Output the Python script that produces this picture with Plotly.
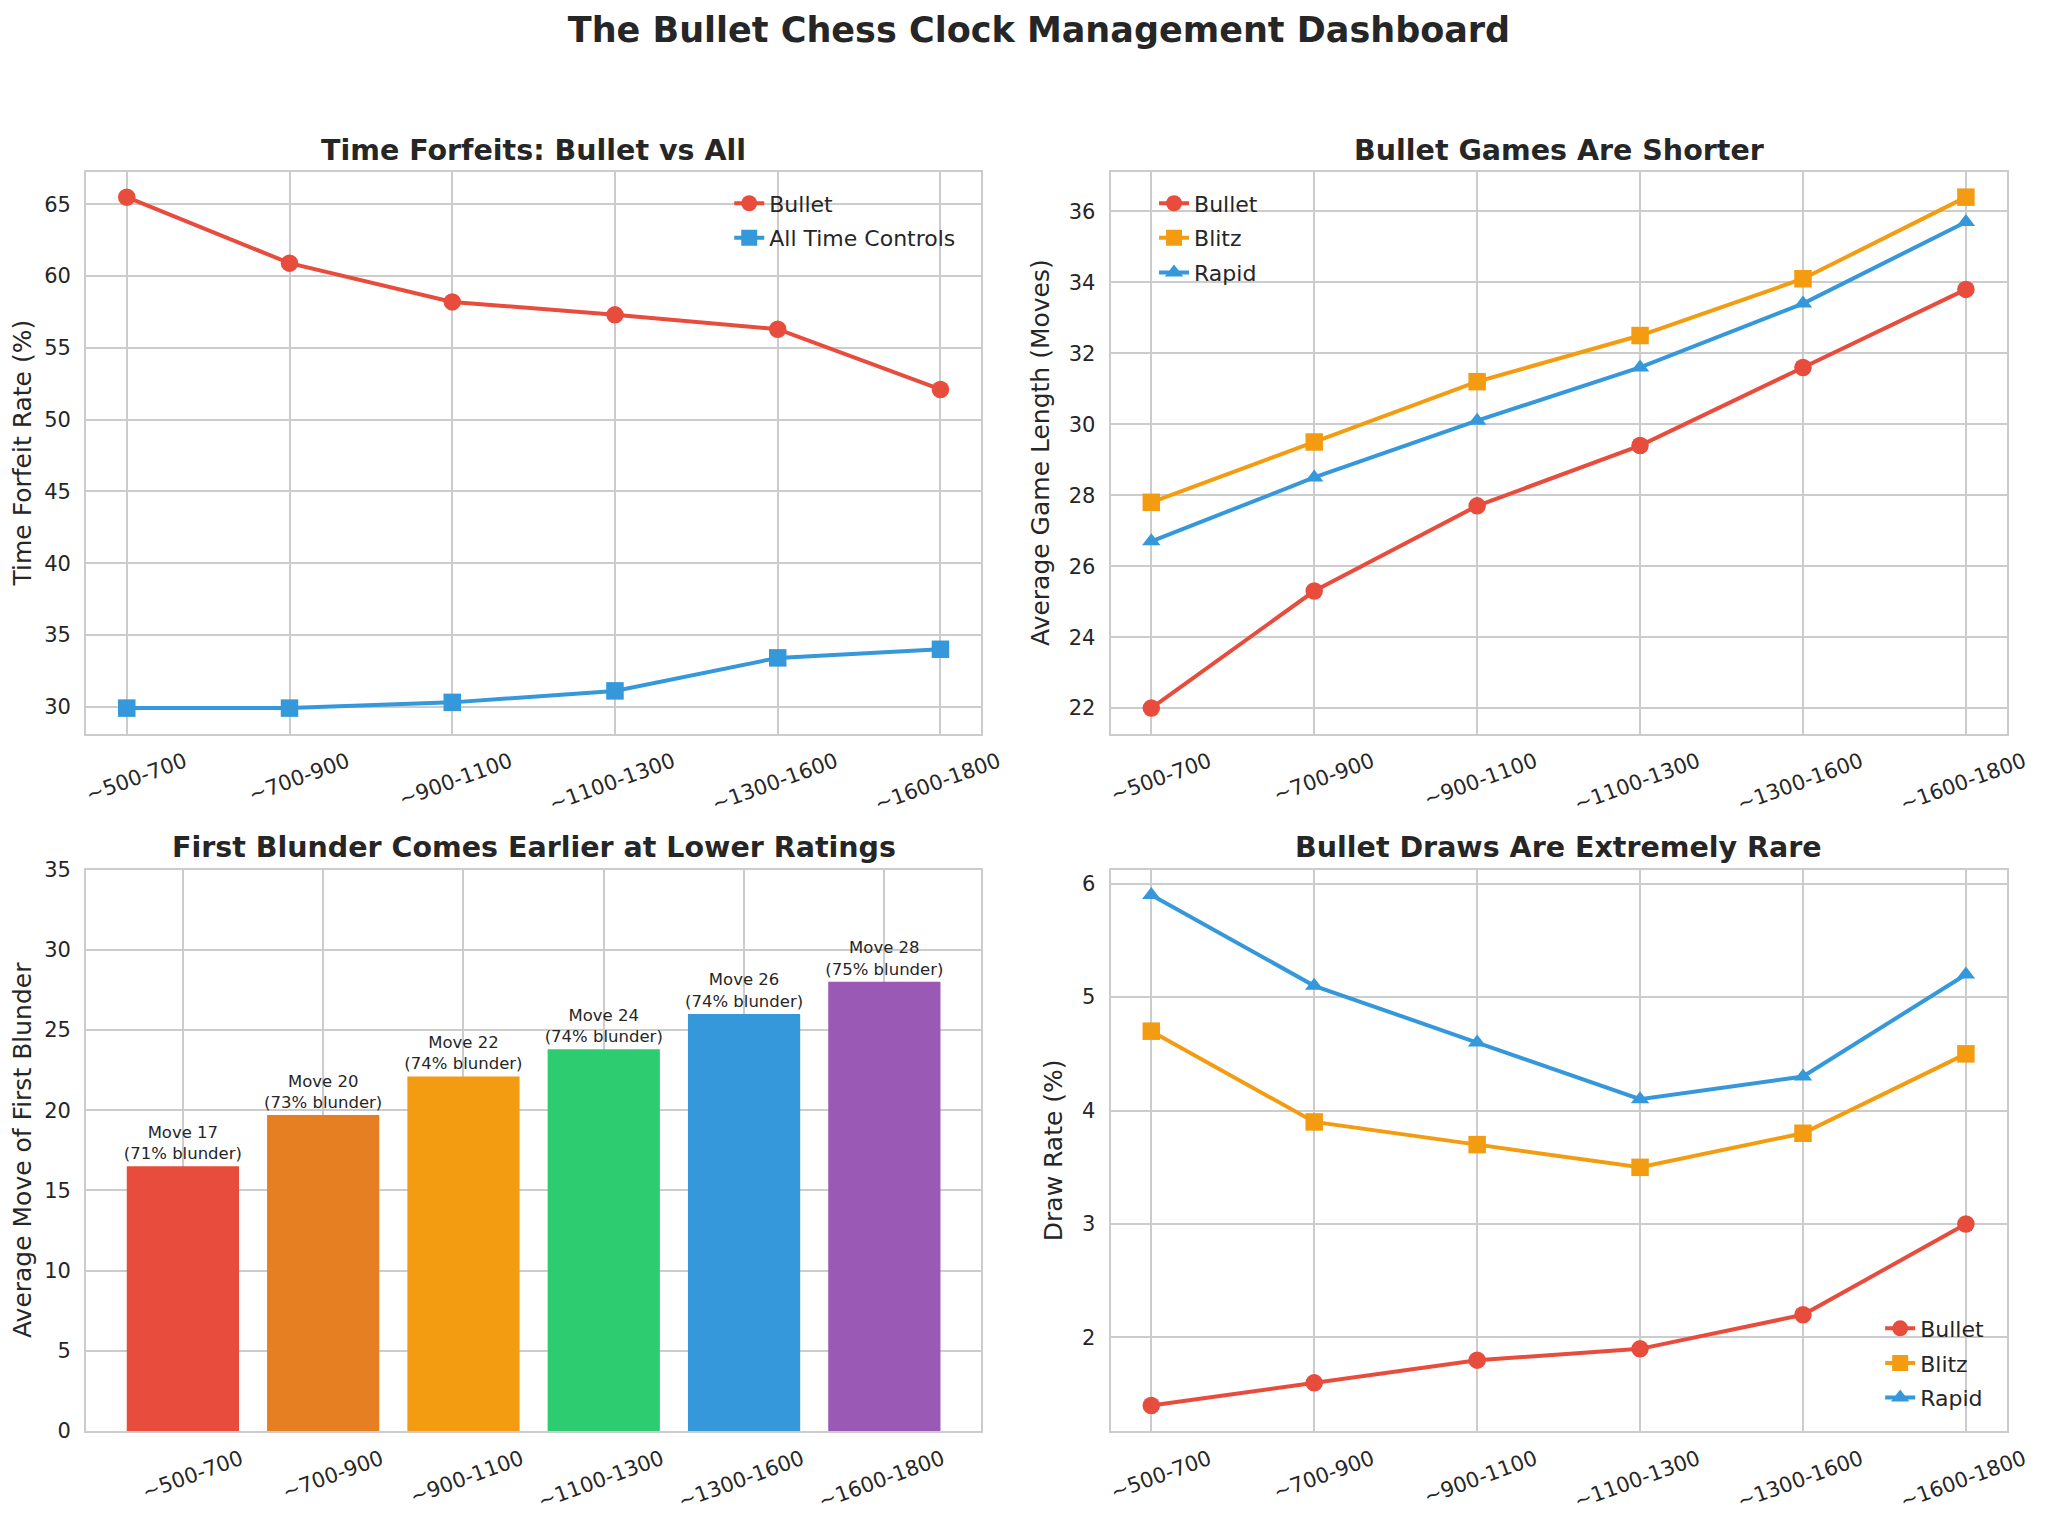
import plotly.graph_objects as go
from plotly.subplots import make_subplots

# Rating bands shared by all four panels
rating_bands = ["~500-700", "~700-900", "~900-1100", "~1100-1300", "~1300-1600", "~1600-1800"]

# Time forfeit rate (%)
forfeit_bullet = [65.5, 60.9, 58.2, 57.3, 56.3, 52.1]
forfeit_all = [29.9, 29.9, 30.3, 31.1, 33.4, 34.0]

# Average game length (moves)
length_bullet = [22.0, 25.3, 27.7, 29.4, 31.6, 33.8]
length_blitz = [27.8, 29.5, 31.2, 32.5, 34.1, 36.4]
length_rapid = [26.7, 28.5, 30.1, 31.6, 33.4, 35.7]

# First blunder
blunder_move = [16.5, 19.7, 22.1, 23.8, 26.0, 28.0]
blunder_move_label = [17, 20, 22, 24, 26, 28]
blunder_pct = [71, 73, 74, 74, 74, 75]
bar_colors = ["#e74c3c", "#e67e22", "#f39c12", "#2ecc71", "#3498db", "#9b59b6"]

# Draw rate (%)
draw_bullet = [1.4, 1.6, 1.8, 1.9, 2.2, 3.0]
draw_blitz = [4.7, 3.9, 3.7, 3.5, 3.8, 4.5]
draw_rapid = [5.9, 5.1, 4.6, 4.1, 4.3, 5.2]

RED = "#e74c3c"
ORANGE = "#f39c12"
BLUE = "#3498db"
TXT = "#262626"
FONT = "DejaVu Sans"

W, H = 2072, 1535
OFF = 8  # page body margin


def px_x(px):
    return (px - OFF) / W


def px_y(py):
    return 1 - (py - OFF) / H


fig = make_subplots(rows=2, cols=2)


def line(x, y, name, color, symbol, row, col, legend):
    size = 16 if symbol == "triangle-up" else 17.5
    fig.add_trace(go.Scatter(
        x=x, y=y, name=name, mode="lines+markers",
        line=dict(color=color, width=4),
        marker=dict(symbol=symbol, size=size, color=color),
        legend=legend, legendgroup=f"{legend}-{name}", cliponaxis=False,
    ), row=row, col=col)


line(rating_bands, forfeit_bullet, "Bullet", RED, "circle", 1, 1, "legend")
line(rating_bands, forfeit_all, "All Time Controls", BLUE, "square", 1, 1, "legend")

line(rating_bands, length_bullet, "Bullet", RED, "circle", 1, 2, "legend2")
line(rating_bands, length_blitz, "Blitz", ORANGE, "square", 1, 2, "legend2")
line(rating_bands, length_rapid, "Rapid", BLUE, "triangle-up", 1, 2, "legend2")

fig.add_trace(go.Bar(
    x=rating_bands, y=blunder_move, marker=dict(color=bar_colors, line=dict(width=0)),
    width=0.8, showlegend=False,
    text=[f"Move {m}<br>({p}% blunder)" for m, p in zip(blunder_move_label, blunder_pct)],
    textposition="outside", constraintext="none",
    textfont=dict(size=16.5, color=TXT, family=FONT),
    cliponaxis=False,
), row=2, col=1)

line(rating_bands, draw_bullet, "Bullet", RED, "circle", 2, 2, "legend3")
line(rating_bands, draw_blitz, "Blitz", ORANGE, "square", 2, 2, "legend3")
line(rating_bands, draw_rapid, "Rapid", BLUE, "triangle-up", 2, 2, "legend3")

left_dom = [px_x(84), px_x(990)]
right_dom = [px_x(1121), px_x(2028)]
top_dom = [px_y(733), px_y(162)]
bot_dom = [px_y(1441.5), px_y(871)]

axis_style = dict(
    showgrid=True, gridcolor="#cccccc", gridwidth=1.6,
    showline=True, linecolor="#cccccc", linewidth=2, mirror=True,
    ticks="", zeroline=False,
    tickfont=dict(size=21, color=TXT, family=FONT),
    title_font=dict(size=25, color=TXT, family=FONT),
)

fig.update_xaxes(**axis_style)
fig.update_yaxes(**axis_style)
fig.update_xaxes(tickangle=-20, ticklabelshift=58, ticklabelstandoff=6)
fig.update_yaxes(ticklabelstandoff=9, title_standoff=12)

fig.update_xaxes(domain=left_dom, range=[-0.25, 5.25], row=1, col=1)
fig.update_xaxes(domain=right_dom, range=[-0.25, 5.25], row=1, col=2)
fig.update_xaxes(domain=left_dom, range=[-0.69, 5.69], row=2, col=1)
fig.update_xaxes(domain=right_dom, range=[-0.25, 5.25], row=2, col=2)

fig.update_yaxes(domain=top_dom, range=[28.12, 67.28], dtick=5, title_text="Time Forfeit Rate (%)", row=1, col=1)
fig.update_yaxes(domain=top_dom, range=[21.28, 37.12], dtick=2, title_text="Average Game Length (Moves)", row=1, col=2)
fig.update_yaxes(domain=bot_dom, range=[0, 35], dtick=5, title_text="Average Move of First Blunder", row=2, col=1)
fig.update_yaxes(domain=bot_dom, range=[1.175, 6.125], dtick=1, title_text="Draw Rate (%)", row=2, col=2)

subtitles = [
    ("Time Forfeits: Bullet vs All", sum(left_dom) / 2, px_y(141)),
    ("Bullet Games Are Shorter", sum(right_dom) / 2, px_y(141)),
    ("First Blunder Comes Earlier at Lower Ratings", sum(left_dom) / 2, px_y(849)),
    ("Bullet Draws Are Extremely Rare", sum(right_dom) / 2, px_y(849)),
]
for txt, x, y in subtitles:
    fig.add_annotation(text=f"<b>{txt}</b>", x=x, y=y, xref="paper", yref="paper",
                       xanchor="center", yanchor="middle", showarrow=False,
                       font=dict(size=28.5, color=TXT, family=FONT))

legend_style = dict(
    bgcolor="rgba(255,255,255,0)", borderwidth=0,
    font=dict(size=22, color=TXT, family=FONT),
    xanchor="left", yanchor="top", tracegroupgap=3,
)

fig.update_layout(
    width=W, height=H,
    margin=dict(l=0, r=0, t=0, b=0),
    paper_bgcolor="white", plot_bgcolor="white",
    font=dict(family=FONT, color=TXT),
    title=dict(text="<b>The Bullet Chess Clock Management Dashboard</b>",
               x=px_x(1039), xanchor="center", y=px_y(30), yanchor="middle",
               font=dict(size=35, color=TXT, family=FONT)),
    legend=dict(x=px_x(735), y=px_y(173), **legend_style),
    legend2=dict(x=px_x(1165), y=px_y(173), **legend_style),
    legend3=dict(x=px_x(1900), y=px_y(1316), **legend_style),
)

fig.write_html("out.html")
